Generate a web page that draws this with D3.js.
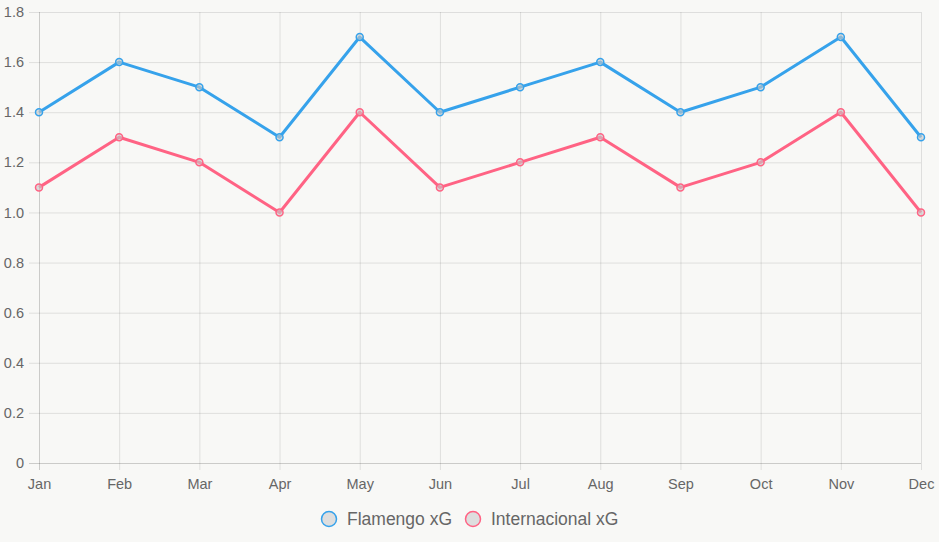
<!DOCTYPE html>
<html><head><meta charset="utf-8">
<script src="https://cdn.jsdelivr.net/npm/d3@7"></script>
<style>
html,body{margin:0;padding:0;background:#f8f8f6;}
svg{display:block;}
</style></head>
<body>
<svg id="chart" width="939" height="542"></svg>
<script>
const months = ["Jan","Feb","Mar","Apr","May","Jun","Jul","Aug","Sep","Oct","Nov","Dec"];
const flamengo = [1.4,1.6,1.5,1.3,1.7,1.4,1.5,1.6,1.4,1.5,1.7,1.3];
const internacional = [1.1,1.3,1.2,1.0,1.4,1.1,1.2,1.3,1.1,1.2,1.4,1.0];
const yTicks = [0,0.2,0.4,0.6,0.8,1.0,1.2,1.4,1.6,1.8];
const seriesNames = ["Flamengo xG","Internacional xG"];
const seriesColors = ["#36a2eb","#ff6384"];

const svg = d3.select("#chart");
const pLeft = 39, pRight = 921, pTop = 12, pBottom = 463;
const x = d3.scalePoint().domain(months).range([pLeft,pRight]);
const y = d3.scaleLinear().domain([0,1.8]).range([pBottom,pTop]);
const font = "'Liberation Sans', Arial, sans-serif";

// horizontal grid
const yAxis = d3.axisLeft(y).tickValues(yTicks).tickSize(pRight-pLeft+10).tickPadding(5)
  .tickFormat(d => d===0 ? "0" : d3.format(".1f")(d));
const gy = svg.append("g").attr("transform",`translate(${pRight},0)`).call(yAxis);
gy.select(".domain").remove();
gy.selectAll(".tick line").attr("stroke", d => d===0 ? "rgba(0,0,0,0.18)" : "rgba(0,0,0,0.1)");
gy.selectAll(".tick text").attr("fill","#666").style("font-family",font).style("font-size","14.5px");

// vertical grid
const xAxis = d3.axisBottom(x).tickSize(-(pBottom-pTop)).tickPadding(0);
const gx = svg.append("g").attr("transform",`translate(0,${pBottom})`).call(xAxis);
gx.select(".domain").remove();
gx.selectAll(".tick line").attr("stroke", (d,i) => i===0 ? "rgba(0,0,0,0.18)" : "rgba(0,0,0,0.1)").attr("y2",-(pBottom-pTop)).attr("y1",7);
gx.selectAll(".tick text").attr("fill","#666").style("font-family",font).style("font-size","14.5px").attr("y",16).attr("dy","0.71em");

const data = [flamengo, internacional];
const line = d3.line().x((d,i)=>x(months[i])).y(d=>y(d));
data.forEach((vals,si)=>{
  svg.append("path").datum(vals).attr("d",line).attr("fill","none")
    .attr("stroke",seriesColors[si]).attr("stroke-width",3).attr("stroke-linejoin","round");
  svg.selectAll(".pt"+si).data(vals).enter().append("circle")
    .attr("cx",(d,i)=>x(months[i])).attr("cy",d=>y(d)).attr("r",3.5)
    .attr("fill","rgba(200,200,200,0.6)").attr("stroke",seriesColors[si]).attr("stroke-width",1.5);
});

// legend
const legendItems = [{cx:329, tx:347},{cx:473, tx:491}];
legendItems.forEach((it,i)=>{
  svg.append("circle").attr("cx",it.cx).attr("cy",519).attr("r",7.5)
    .attr("fill","#dedede").attr("stroke",seriesColors[i]).attr("stroke-width",1.5);
  svg.append("text").attr("x",it.tx).attr("y",519).attr("dy","0.35em")
    .attr("fill","#666").style("font-family",font).style("font-size","17.5px").text(seriesNames[i]);
});
</script>
</body></html>
